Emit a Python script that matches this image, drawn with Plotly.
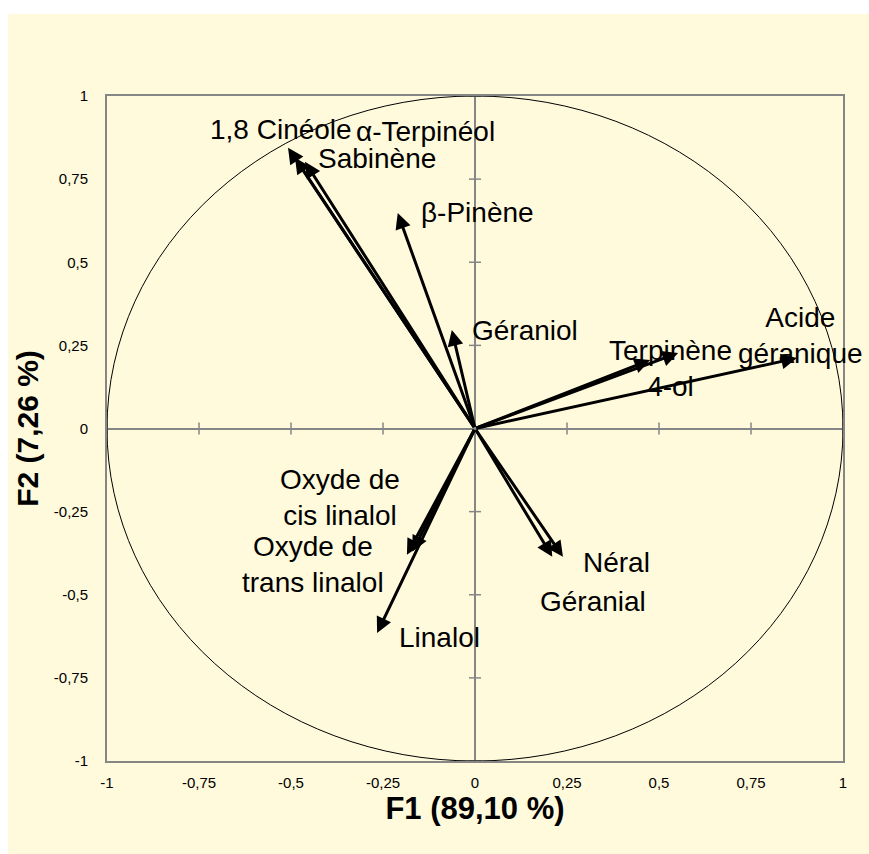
import plotly.graph_objects as go

# ---- data (correlation circle, F1 x F2) ----
variables = ["1,8 Cinéole", "α-Terpinéol", "Sabinène", "β-Pinène", "Géraniol",
             "", "Terpinène<br>4-ol", "Acide<br>géranique",
             "Oxyde de<br>cis linalol", "Oxyde de<br>trans linalol", "Linalol",
             "Néral", "Géranial"]
f1 = [-0.508, -0.489, -0.462, -0.210, -0.063, 0.476, 0.552, 0.875,
      -0.185, -0.170, -0.266, 0.239, 0.210]
f2 = [0.844, 0.814, 0.802, 0.648, 0.296, 0.206, 0.227, 0.212,
      -0.380, -0.370, -0.615, -0.386, -0.386]

tick_vals = [-1, -0.75, -0.5, -0.25, 0, 0.25, 0.5, 0.75, 1]
tick_text = ["-1", "-0,75", "-0,5", "-0,25", "0", "0,25", "0,5", "0,75", "1"]
x_title = "F1 (89,10 %)"
y_title = "F2 (7,26 %)"

# ---- styling: label offsets in pixels (xshift, yshift) ----
label_shift = {
    "1,8 Cinéole": (-7, 18),
    "α-Terpinéol": (130, 26),
    "Sabinène": (72, 3),
    "β-Pinène": (80, 1),
    "Géraniol": (73, 0),
    "": (0, 0),
    "Terpinène<br>4-ol": (-8, -15),
    "Acide<br>géranique": (3, 23),
    "Oxyde de<br>cis linalol": (-67, 57),
    "Oxyde de<br>trans linalol": (-99, -13),
    "Linalol": (62, -5),
    "Néral": (54, -6),
    "Géranial": (41, -45),
}

BG = "#FFFADC"
AXC = "#868686"
FONT = "Arial, Liberation Sans, sans-serif"

W, H = 869, 854
ML, MR, MT, MB = 107, 26, 96, 93
pw, ph = W - ML - MR, H - MT - MB

fig = go.Figure()

# cross tick marks on the zero lines
tick_half = 6
dy = tick_half / ph * 2.0
dx = tick_half / pw * 2.0
tx, ty = [], []
for v in tick_vals:
    if v == 0:
        continue
    tx += [v, v, None]
    ty += [-dy, dy, None]
    tx += [-dx, dx, None]
    ty += [v, v, None]
fig.add_trace(go.Scatter(x=tx, y=ty, mode="lines", line=dict(color=AXC, width=1.5),
                         hoverinfo="skip", showlegend=False))

# invisible points at arrow tips (keeps data in a trace)
fig.add_trace(go.Scatter(x=f1, y=f2, mode="markers", marker=dict(size=1, opacity=0),
                         hovertext=variables, showlegend=False))

annotations = []
for name, x, y in zip(variables, f1, f2):
    annotations.append(dict(x=x, y=y, ax=0, ay=0, xref="x", yref="y",
                            axref="x", ayref="y", text="", showarrow=True,
                            arrowhead=2, arrowsize=1.05, arrowwidth=3,
                            arrowcolor="black"))
    if name:
        sx, sy = label_shift[name]
        annotations.append(dict(x=x, y=y, xref="x", yref="y", text=name,
                                showarrow=False, xshift=sx, yshift=sy,
                                xanchor="center", yanchor="middle", align="center",
                                font=dict(family=FONT, size=28, color="black")))

shapes = [
    dict(type="rect", xref="paper", yref="paper",
         x0=(8 - ML) / pw, x1=(W + 5 - ML) / pw,
         y0=-(MB + 5) / ph, y1=(H - 14 - MB) / ph,
         fillcolor=BG, line=dict(width=0), layer="below"),
    dict(type="circle", xref="x", yref="y", x0=-1, y0=-1, x1=1, y1=1,
         line=dict(color="black", width=1), layer="above"),
]

axis_common = dict(
    range=[-1, 1], tickvals=tick_vals, ticktext=tick_text,
    showgrid=False, zeroline=True, zerolinecolor=AXC, zerolinewidth=2,
    showline=True, mirror=True, linecolor=AXC, linewidth=2,
    ticks="", tickfont=dict(family=FONT, size=15, color="black"),
    fixedrange=True,
)

fig.update_layout(
    width=W, height=H,
    margin=dict(l=ML, r=MR, t=MT, b=MB),
    paper_bgcolor="white", plot_bgcolor=BG,
    showlegend=False,
    xaxis=dict(**axis_common, ticklabelstandoff=7,
               title=dict(text="<b>" + x_title + "</b>", standoff=2,
                          font=dict(family=FONT, size=31, color="black"))),
    yaxis=dict(**axis_common, ticklabelstandoff=14,
               title=dict(text="<b>" + y_title + "</b>", standoff=6,
                          font=dict(family=FONT, size=30, color="black"))),
    annotations=annotations,
    shapes=shapes,
)

fig.write_html("out.html")
